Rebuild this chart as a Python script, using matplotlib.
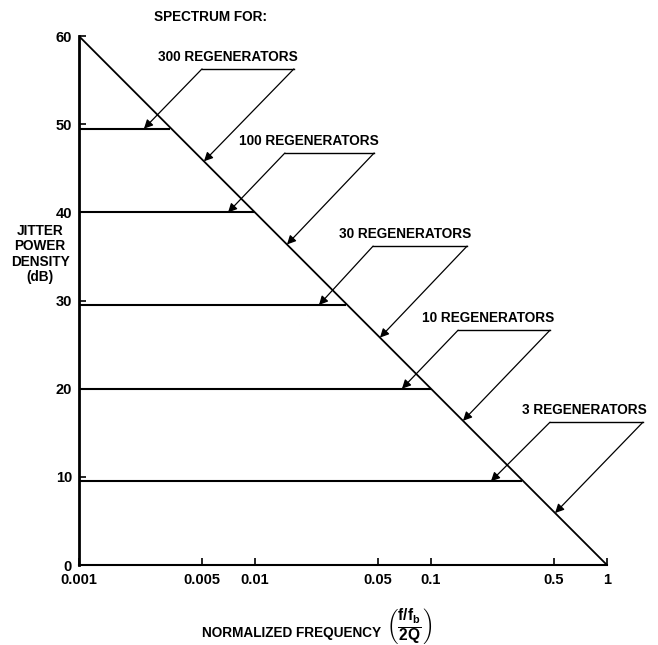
import matplotlib.pyplot as plt
import numpy as np

# jitter power density plateaus (dB) for each chain length
regenerators = [300, 100, 30, 10, 3]
levels = [49.5, 40, 29.5, 20, 9.5]
corners = [0.0033, 0.01, 0.033, 0.1, 0.33]   # where each plateau meets the roll-off

# common roll-off asymptote
rolloff_f = [0.001, 1]
rolloff_db = [60, 0]

xticks = [0.001, 0.005, 0.01, 0.05, 0.1, 0.5, 1]
xticklabels = ['0.001', '0.005', '0.01', '0.05', '0.1', '0.5', '1']
yticks = [0, 10, 20, 30, 40, 50, 60]

# callout placement: arrow tips (frequency on plateau, frequency on roll-off)
# and the shelf under each label in axes fraction (x_left, x_right, y)
tip_flat = [0.00234, 0.00703, 0.0231, 0.0684, 0.219]
tip_slope = [0.00513, 0.0152, 0.0513, 0.152, 0.507]
shelves = [(0.233, 0.407, 0.938),
           (0.390, 0.559, 0.779),
           (0.557, 0.735, 0.603),
           (0.718, 0.892, 0.444),
           (0.892, 1.068, 0.270)]

plt.rcParams['font.family'] = ['Liberation Sans', 'DejaVu Sans']
plt.rcParams['font.weight'] = 'bold'
plt.rcParams['mathtext.fontset'] = 'custom'
plt.rcParams['mathtext.rm'] = 'Liberation Sans:bold'
plt.rcParams['mathtext.it'] = 'Liberation Sans:bold'


def slope_db(f):
    return np.interp(np.log10(f), np.log10(rolloff_f), rolloff_db)


fig = plt.figure(figsize=(6.58, 6.45), dpi=100, facecolor='w')
ax = fig.add_axes([0.120, 0.124, 0.8025, 0.820])

ax.set_xscale('log')
ax.set_xlim(0.001, 1)
ax.set_ylim(0, 60)

ax.plot(rolloff_f, rolloff_db, color='black', lw=1.3, solid_capstyle='butt')
for lvl, fc in zip(levels, corners):
    ax.plot([0.001, fc], [lvl, lvl], color='black', lw=1.5, solid_capstyle='butt')

arrow = dict(arrowstyle='-|>', color='black', lw=0.9, mutation_scale=13,
             shrinkA=0, shrinkB=0)
for n, lvl, f1, f2, (sx0, sx1, sy) in zip(regenerators, levels, tip_flat,
                                          tip_slope, shelves):
    ax.plot([sx0, sx1], [sy, sy], color='black', lw=1.0,
            transform=ax.transAxes, clip_on=False)
    ax.annotate('', xy=(f1, lvl), xycoords='data',
                xytext=(sx0, sy), textcoords='axes fraction',
                arrowprops=arrow, annotation_clip=False)
    ax.annotate('', xy=(f2, slope_db(f2)), xycoords='data',
                xytext=(sx1, sy), textcoords='axes fraction',
                arrowprops=arrow, annotation_clip=False)
    ax.text(sx1 + 0.008, sy + 0.009, f'{n} REGENERATORS', transform=ax.transAxes,
            ha='right', va='bottom', fontsize=9.8, fontweight='bold')

ax.set_xticks(xticks)
ax.set_xticklabels(xticklabels)
ax.minorticks_off()
ax.set_yticks(yticks)
ax.tick_params(axis='both', direction='in', length=5, width=1.2,
               labelsize=10.5, colors='black')
ax.tick_params(axis='x', pad=6)
ax.tick_params(axis='y', pad=5)

for side in ['top', 'right']:
    ax.spines[side].set_visible(False)
ax.spines['left'].set_linewidth(2.0)
ax.spines['bottom'].set_linewidth(1.5)

fig.text(211 / 658, 1 - 17 / 645, 'SPECTRUM FOR:', ha='center', va='center',
         fontsize=9.8, fontweight='bold')
fig.text(40 / 658, 1 - 254 / 645, 'JITTER\nPOWER\nDENSITY\n(dB)',
         ha='center', va='center', multialignment='center',
         fontsize=9.8, fontweight='bold', linespacing=1.15)
fig.text(292 / 658, 1 - 633 / 645, 'NORMALIZED FREQUENCY', ha='center',
         va='center', fontsize=9.8, fontweight='bold')
fig.text(386 / 658, 1 - 626 / 645, r'$\left(\frac{f/f_b}{2Q}\right)$',
         ha='left', va='center', fontsize=16)

fig.savefig('out.png', dpi=100, facecolor='w')
